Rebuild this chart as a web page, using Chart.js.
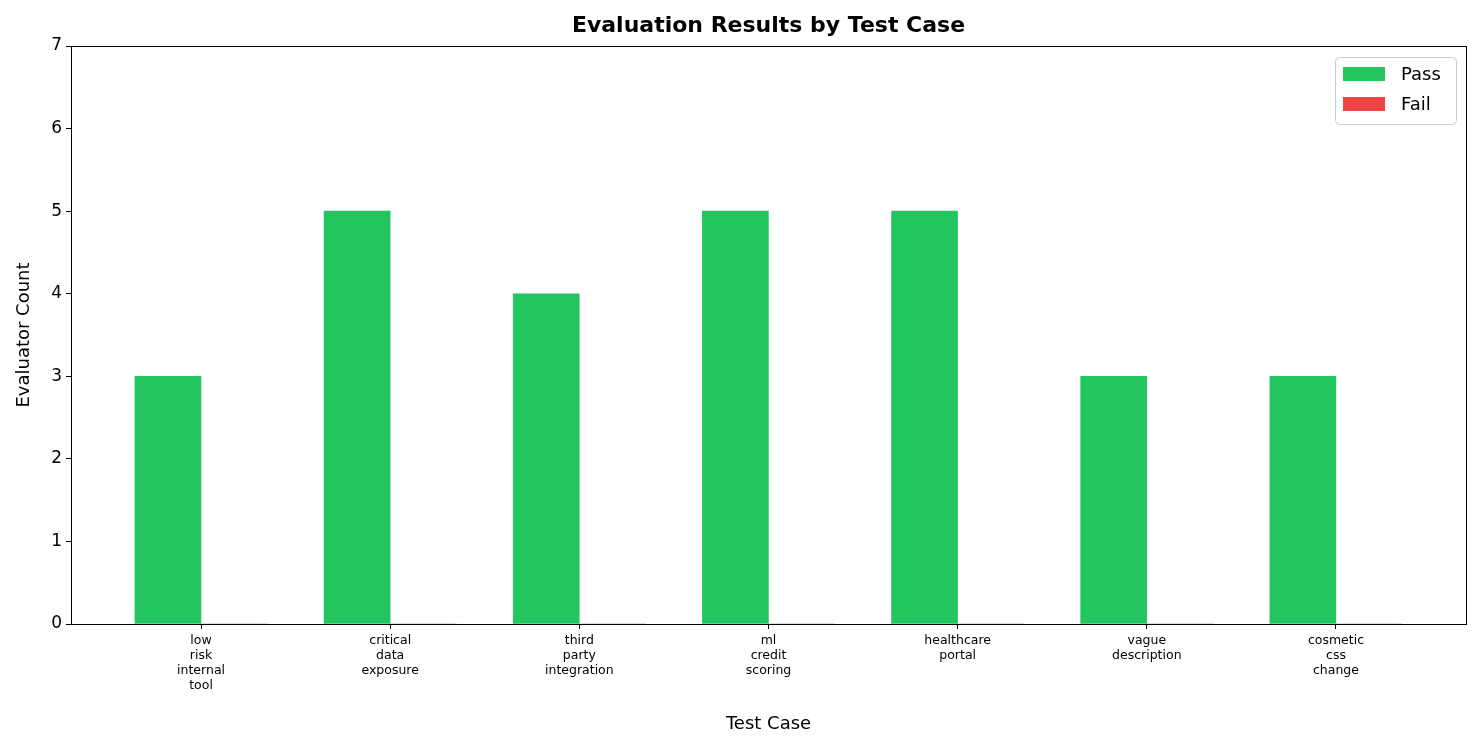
<!DOCTYPE html>
<html><head><script src="https://cdn.jsdelivr.net/npm/chart.js"></script>
<style>body{margin:0;background:#fff}</style></head><body>
<canvas id="c" width="1481" height="749"></canvas>
<script>
const categories=["low risk internal tool","critical data exposure","third party integration","ml credit scoring","healthcare portal","vague description","cosmetic css change"];
const passValues=[3,5,4,5,5,3,3];
const failValues=[0,0,0,0,0,0,0];
const yTicks=[0,1,2,3,4,5,6,7];
const W=0.35;
const F='"DejaVu Sans"';
const overlay={id:'overlay',afterDraw(ch){const c=ch.ctx,a=ch.chartArea;c.save();
c.strokeStyle='#000';c.lineWidth=1;c.strokeRect(a.left+0.5,a.top+0.5,a.right-a.left,a.bottom-a.top);
c.fillStyle='#000';c.font='bold 22px '+F;c.textAlign='center';c.textBaseline='middle';c.fillText('Evaluation Results by Test Case',(a.left+a.right)/2,26);
const lx=1335,ly=57,lw=121,lh=67;c.fillStyle='rgba(255,255,255,0.8)';c.strokeStyle='#ccc';c.beginPath();c.roundRect(lx+0.5,ly+0.5,lw,lh,4);c.fill();c.stroke();
const items=[['Pass','#22c55e'],['Fail','#ef4444']];c.font='18px '+F;c.textAlign='left';
items.forEach((it,i)=>{const y=ly+17+i*30;c.fillStyle=it[1];c.fillRect(lx+8,y-7,42,14);c.fillStyle='#000';c.fillText(it[0],lx+66,y+1);});
c.restore();}};
new Chart(document.getElementById('c'),{type:'bar',
data:{datasets:[
{label:'Pass',data:passValues.map((v,i)=>({x:i-W/2,y:v})),backgroundColor:'#22c55e'},
{label:'Fail',data:failValues.map((v,i)=>({x:i+W/2,y:v})),backgroundColor:'#ef4444'}]},
options:{responsive:false,devicePixelRatio:1,animation:false,
layout:{padding:{top:46,right:15,left:10,bottom:0}},
datasets:{bar:{barThickness:66,grouped:false,borderWidth:0}},
plugins:{legend:{display:false},tooltip:{enabled:false}},
scales:{
x:{type:'linear',offset:false,min:-0.6875,max:6.6875,afterBuildTicks(s){s.ticks=categories.map((_,i)=>({value:i}));},
afterFit(s){s.height=125;},
grid:{drawOnChartArea:false,tickLength:5,color:'#000',offset:false},border:{display:false},
ticks:{autoSkip:false,maxRotation:0,color:'#000',font:{family:F,size:12.5},padding:4,callback:(v)=>categories[v]?categories[v].split(' '):''},
title:{display:true,text:'Test Case',color:'#000',font:{family:F,size:18},padding:{top:6,bottom:14}}},
y:{min:0,max:7,afterBuildTicks(s){s.ticks=yTicks.map(v=>({value:v}));},
afterFit(s){s.width=61;},
grid:{drawOnChartArea:false,tickLength:5,color:'#000'},border:{display:false},
ticks:{color:'#000',font:{family:F,size:17},padding:4},
title:{display:true,text:'Evaluator Count',color:'#000',font:{family:F,size:18},padding:{bottom:4}}}}},
plugins:[overlay]});
</script></body></html>
